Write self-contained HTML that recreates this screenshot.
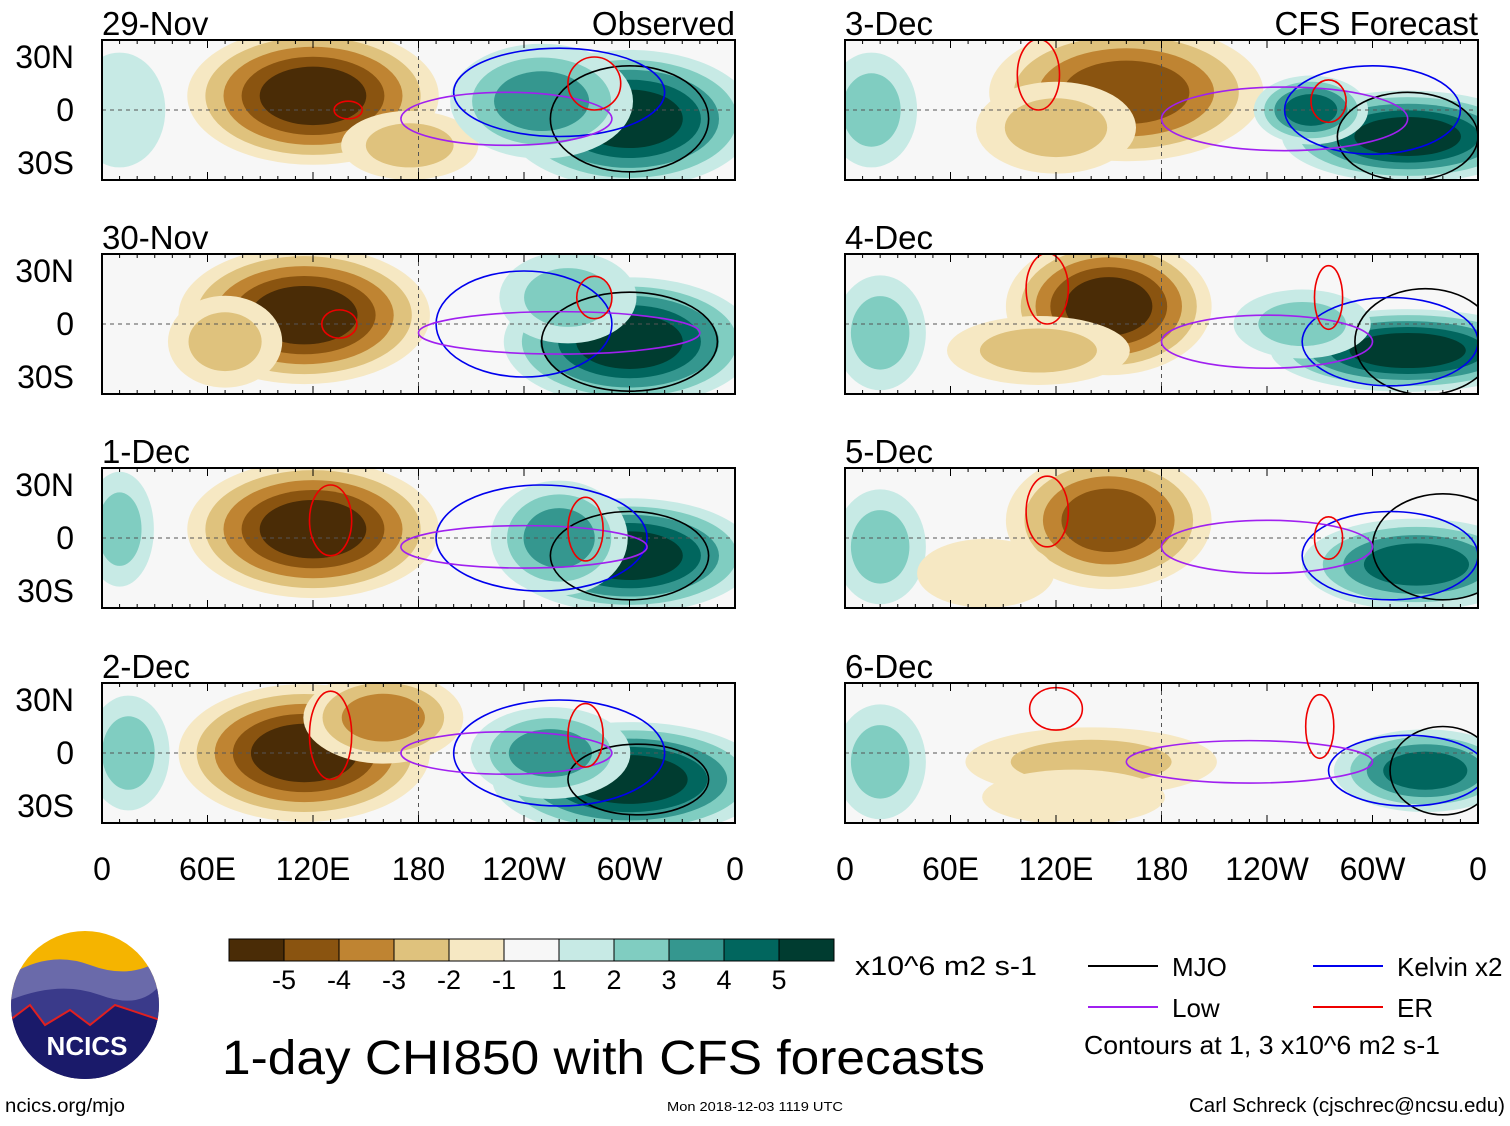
<!DOCTYPE html>
<html><head><meta charset="utf-8"><style>
body{margin:0;background:#fff;width:1510px;height:1121px;overflow:hidden;font-family:"Liberation Sans",sans-serif}
svg text{font-family:"Liberation Sans",sans-serif}
</style></head><body>
<svg id="root" width="1510" height="1121" viewBox="0 0 1510 1121"></svg>
<script>
const levelColorsNeg=["#f6e8c3","#dfc27d","#bf8432","#8a5410","#4a2c06"];
const levelColorsPos=["#c7eae5","#80cdc1","#35978f","#01665e","#003c30"];
const panelDates=["29-Nov","30-Nov","1-Dec","2-Dec","3-Dec","4-Dec","5-Dec","6-Dec"];
const xTickLabels=["0","60E","120E","180","120W","60W","0"];
const xTickLons=[0,60,120,180,240,300,360];
const yTickLabels=["30N","0","30S"];
const yTickLats=[30,0,-30];
const colorbarLabels=["-5","-4","-3","-2","-1","1","2","3","4","5"];
// anomaly blobs per panel: [lon, lat, value, lonRadius, latRadius]
const blobs0=[[120,8,-5,55,30],[175,-20,-2,30,15],[300,-5,5,55,30],[250,5,3,40,25],[10,0,1,20,25]];
const blobs1=[[115,5,-5,55,30],[70,-10,-2,25,20],[300,-10,5,55,28],[265,15,2,30,20]];
const blobs2=[[120,5,-5,55,30],[300,-10,5,55,25],[260,0,3,30,25],[10,5,2,15,25]];
const blobs3=[[115,0,-5,55,30],[160,20,-3,35,20],[300,-15,5,60,25],[255,0,3,35,20],[15,0,2,18,25]];
const blobs4=[[160,10,-4,60,30],[120,-10,-2,35,20],[320,-15,5,55,20],[265,0,4,25,15],[15,0,2,20,25]];
const blobs5=[[150,10,-5,45,30],[110,-15,-2,40,15],[320,-15,5,60,18],[260,0,2,30,15],[20,-5,2,20,25]];
const blobs6=[[150,10,-4,45,30],[325,-15,4,50,20],[20,-5,2,20,25],[80,-20,-1,30,15]];
const blobs7=[[140,-5,-2,55,15],[330,-10,4,40,18],[20,-5,2,20,25],[130,-25,-1,40,12]];
const allBlobs=[blobs0,blobs1,blobs2,blobs3,blobs4,blobs5,blobs6,blobs7];
// contours per panel: [type, lon, lat, lonRadius, latRadius]
const contours0=[["mjo",300,-5,45,30],["kelvin",260,10,60,25],["low",230,-5,60,15],["er",280,15,15,15],["er",140,0,8,5]];
const contours1=[["mjo",300,-10,50,28],["kelvin",240,0,50,30],["low",260,-5,80,12],["er",280,15,10,12],["er",135,0,10,8]];
const contours2=[["mjo",300,-10,45,25],["kelvin",250,0,60,30],["low",240,-5,70,12],["er",130,10,12,20],["er",275,5,10,18]];
const contours3=[["mjo",305,-15,40,20],["kelvin",260,0,60,30],["low",230,0,60,12],["er",130,10,12,25],["er",275,10,10,18]];
const contours4=[["mjo",320,-15,40,25],["kelvin",300,0,50,25],["low",250,-5,70,18],["er",110,20,12,20],["er",275,5,10,12]];
const contours5=[["mjo",330,-10,40,30],["kelvin",310,-10,50,25],["low",240,-10,60,15],["er",115,20,12,20],["er",275,15,8,18]];
const contours6=[["mjo",340,-5,40,30],["kelvin",310,-10,50,25],["low",240,-5,60,15],["er",115,15,12,20],["er",275,0,8,12]];
const contours7=[["mjo",340,-10,30,25],["kelvin",320,-10,45,20],["low",230,-5,70,12],["er",120,25,15,12],["er",270,15,8,18]];
const allContours=[contours0,contours1,contours2,contours3,contours4,contours5,contours6,contours7];
const contourColors={mjo:"#000",kelvin:"#0000ee",low:"#a020f0",er:"#ee0000"};

const NS="http://www.w3.org/2000/svg";
const root=document.getElementById("root");
function mk(tag,attrs,parent){const e=document.createElementNS(NS,tag);for(const k in attrs)e.setAttribute(k,attrs[k]);(parent||root).appendChild(e);return e;}
const PW=633,PH=140;
const panelPos=[[102,40],[102,254],[102,468],[102,683],[845,40],[845,254],[845,468],[845,683]];
const defs=mk("defs",{});
panelPos.forEach((p,i)=>{
  const [x0,y0]=p;
  const xs=lon=>x0+lon/360*PW;
  const ys=lat=>y0+PH/2-lat*1.767;
  const cp=mk("clipPath",{id:"cp"+i},defs);
  mk("rect",{x:x0,y:y0,width:PW,height:PH},cp);
  const g=mk("g",{"clip-path":"url(#cp"+i+")"});
  
  
  mk("rect",{x:x0,y:y0,width:PW,height:PH,fill:"#f7f7f7"},g);
  allBlobs[i].forEach(b=>{
    const [lon,lat,v,rl,ra]=b;const n=Math.abs(v);
    for(let k=1;k<=n;k++){
      const f=1.3*(1-(k-1)/n*0.72);
      const e=mk("ellipse",{cx:xs(lon),cy:ys(lat),rx:rl*f/360*PW,ry:ra*f*1.767,fill:(v<0?levelColorsNeg:levelColorsPos)[k-1]},g);
      
      
    }
  });
  mk("line",{x1:x0,x2:x0+PW,y1:ys(0),y2:ys(0),stroke:"#555","stroke-dasharray":"4,4","stroke-width":1},g);
  mk("line",{x1:xs(180),x2:xs(180),y1:y0,y2:y0+PH,stroke:"#555","stroke-dasharray":"4,4","stroke-width":1},g);
  allContours[i].forEach(c=>{
    const [t,lon,lat,rl,ra]=c;
    const e=mk("ellipse",{cx:xs(lon),cy:ys(lat),rx:rl/360*PW,ry:ra*1.767,fill:"none",stroke:contourColors[t],"stroke-width":1.6},g);
    
    
  });
  mk("rect",{x:x0,y:y0,width:PW,height:PH,fill:"none",stroke:"#000","stroke-width":2});
  for(let l=0;l<=360;l+=10){const h=(l%60==0)?8:4;
    mk("line",{x1:xs(l),x2:xs(l),y1:y0,y2:y0+h,stroke:"#000"});mk("line",{x1:xs(l),x2:xs(l),y1:y0+PH,y2:y0+PH-h,stroke:"#000"});}
  const t=mk("text",{x:x0,y:y0-5,"font-size":33,fill:"#000"});t.textContent=panelDates[i];
  
  
  if(i==0||i==4){const r=mk("text",{x:x0+PW,y:y0-5,"font-size":33,"text-anchor":"end"});r.textContent=i==0?"Observed":"CFS Forecast";
    
    }
  if(i<4){yTickLats.forEach((la,j)=>{const yt=mk("text",{x:74,y:ys(la)+11,"font-size":32,"text-anchor":"end"});yt.textContent=yTickLabels[j];
    
    });}
  if(i==3||i==7){xTickLons.forEach((lo,j)=>{const xt=mk("text",{x:xs(lo),y:880,"font-size":32,"text-anchor":"middle"});xt.textContent=xTickLabels[j];
    
    });}
});
// colorbar
const cbColors=levelColorsNeg.slice().reverse().concat(["#f7f7f7"]).concat(levelColorsPos);
cbColors.forEach((c,k)=>{const r=mk("rect",{x:229+k*55,y:939,width:55,height:22,fill:c,stroke:"#000","stroke-width":1});
  
  });
colorbarLabels.forEach((l,k)=>{const t=mk("text",{x:284+k*55,y:989,"font-size":27,"text-anchor":"middle"});t.textContent=l;
  
  });
function txt(x,y,s,fs,name,anchor,len){const t=mk("text",{x:x,y:y,"font-size":fs,"text-anchor":anchor||"start"});if(len){t.setAttribute("textLength",len);t.setAttribute("lengthAdjust","spacingAndGlyphs");}t.textContent=s;return t;}
txt(855,975,"x10^6 m2 s-1",27,"colorbar-units",null,182);
txt(222,1074,"1-day CHI850 with CFS forecasts",48,"chart-title",null,763);
const legend=[["MJO","#000",1088,966],["Low","#a020f0",1088,1007],["Kelvin x2","#0000ee",1313,966],["ER","#ee0000",1313,1007]];
legend.forEach(l=>{mk("line",{x1:l[2],x2:l[2]+70,y1:l[3],y2:l[3],stroke:l[1],"stroke-width":2});txt(l[2]+84,l[3]+10,l[0],26,"legend-entry");});
txt(1084,1054,"Contours at 1, 3 x10^6 m2 s-1",26,"contour-note",null,356);
txt(5,1112,"ncics.org/mjo",19,"source-url",null,120);
txt(755,1111,"Mon 2018-12-03 1119 UTC",13,"timestamp","middle",176);
txt(1505,1112,"Carl Schreck (cjschrec@ncsu.edu)",20,"author-credit","end",316);
// logo
const lg=mk("g",{});
mk("clipPath",{id:"lc"},defs).appendChild(document.createElementNS(NS,"circle"));
const lcC=document.querySelector("#lc circle");lcC.setAttribute("cx",85);lcC.setAttribute("cy",1005);lcC.setAttribute("r",74);
const lgi=mk("g",{"clip-path":"url(#lc)"},lg);
mk("rect",{x:10,y:930,width:150,height:150,fill:"#f5b400"},lgi);
mk("path",{d:"M10 975 Q50 950 90 965 T160 960 L160 1080 L10 1080Z",fill:"#6a6aaa"},lgi);
mk("path",{d:"M10 1000 Q60 980 100 995 T160 985 L160 1080 L10 1080Z",fill:"#3a3a8a"},lgi);
mk("path",{d:"M10 1020 L30 1005 L45 1025 L70 1010 L90 1025 L115 1005 L160 1020 L160 1080 L10 1080Z",fill:"#1a1a6a",stroke:"#e02020","stroke-width":2},lgi);
const lt=mk("text",{x:87,y:1055,"font-size":26,"font-weight":"bold",fill:"#fff","text-anchor":"middle"},lg);lt.textContent="NCICS";
</script>
</body></html>
